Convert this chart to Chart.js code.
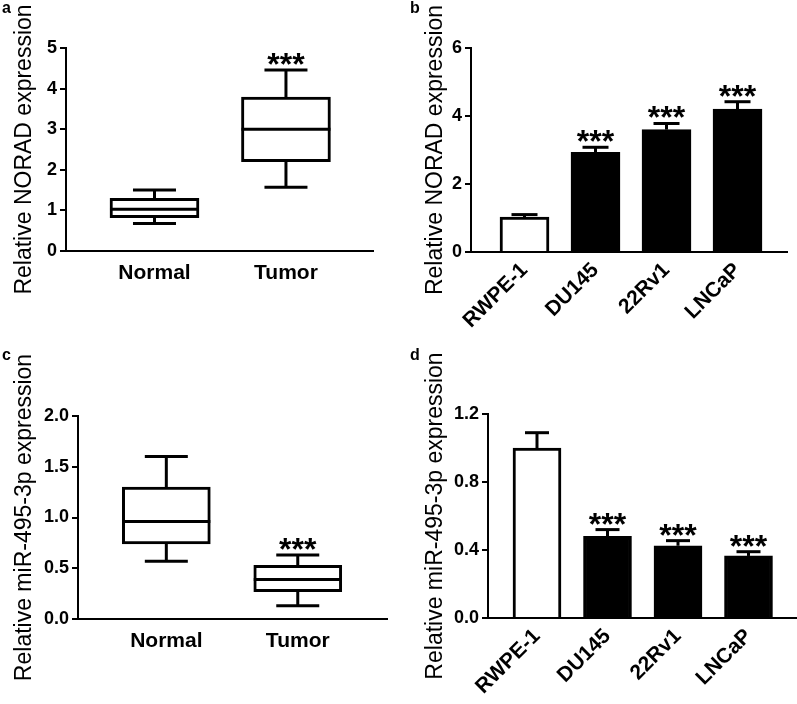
<!DOCTYPE html>
<html>
<head>
<meta charset="utf-8">
<script src="https://cdn.jsdelivr.net/npm/chart.js@4.4.0/dist/chart.umd.min.js"></script>
<style>
  body { margin: 0; background: #fff; }
  #fig { position: relative; width: 797px; height: 704px; overflow: hidden; font-family: "Liberation Sans", Arial, sans-serif; }
  canvas { position: absolute; }
  .lbl { position: absolute; font: bold 16px "Liberation Sans", Arial, sans-serif; line-height: 1; color: #000; }
</style>
</head>
<body>
<div id="fig">
  <canvas id="chartA" width="398" height="340" style="left:0;top:0"></canvas>
  <canvas id="chartB" width="397" height="340" style="left:400px;top:0"></canvas>
  <canvas id="chartC" width="398" height="364" style="left:0;top:340px"></canvas>
  <canvas id="chartD" width="397" height="364" style="left:400px;top:340px"></canvas>
  <div class="lbl" style="left:2px;top:0">a</div>
  <div class="lbl" style="left:410px;top:0">b</div>
  <div class="lbl" style="left:2px;top:347px">c</div>
  <div class="lbl" style="left:410px;top:347px">d</div>
</div>
<script>
// panel a - NORAD in tissues (box plot)
var tissues = ['Normal', 'Tumor'];
var aMin = [0.68, 1.57];
var aQ1 = [0.82, 2.2];
var aMed = [1.03, 3.0];
var aQ3 = [1.30, 3.79];
var aMax = [1.50, 4.46];
var aSig = ['', '***'];

// panel b - NORAD in cell lines
var cellLines = ['RWPE-1', 'DU145', '22Rv1', 'LNCaP'];
var bMean = [1.03, 2.93, 3.6, 4.2];
var bErr = [0.07, 0.15, 0.18, 0.22];
var bSig = ['', '***', '***', '***'];

// panel c - miR-495-3p in tissues (box plot)
var cMin = [0.57, 0.13];
var cQ1 = [0.74, 0.27];
var cMed = [0.96, 0.39];
var cQ3 = [1.30, 0.53];
var cMax = [1.60, 0.63];
var cSig = ['', '***'];

// panel d - miR-495-3p in cell lines
var dMean = [1.0, 0.48, 0.425, 0.365];
var dErr = [0.09, 0.04, 0.03, 0.025];
var dSig = ['', '***', '***', '***'];

var barFill = ['#ffffff', '#000000', '#000000', '#000000'];

const FONT = '"Liberation Sans", Arial, sans-serif';
Chart.defaults.font.family = FONT;
Chart.defaults.color = '#000';

// whiskers, medians, error bars and stars
const extras = {
    id: 'extras',
    afterDatasetsDraw(chart, args, o) {
        const ctx = chart.ctx;
        const xs = chart.scales.x;
        const ys = chart.scales.y;
        ctx.save();
        ctx.strokeStyle = '#000';
        ctx.fillStyle = '#000';
        ctx.lineWidth = 3;
        function line(x1, y1, x2, y2) {
            ctx.beginPath();
            ctx.moveTo(x1, y1);
            ctx.lineTo(x2, y2);
            ctx.stroke();
        }
        for (let i = 0; i < o.n; i++) {
            const cx = xs.getPixelForValue(i + 1);
            let top;
            if (o.box) {
                const half = o.cap / 2;
                line(cx, ys.getPixelForValue(o.q3[i]), cx, ys.getPixelForValue(o.max[i]));
                line(cx - half, ys.getPixelForValue(o.max[i]), cx + half, ys.getPixelForValue(o.max[i]));
                line(cx, ys.getPixelForValue(o.q1[i]), cx, ys.getPixelForValue(o.min[i]));
                line(cx - half, ys.getPixelForValue(o.min[i]), cx + half, ys.getPixelForValue(o.min[i]));
                line(cx - o.boxW / 2, ys.getPixelForValue(o.med[i]), cx + o.boxW / 2, ys.getPixelForValue(o.med[i]));
                top = o.max[i];
            } else {
                top = o.mean[i] + o.err[i];
                const yt = ys.getPixelForValue(top);
                line(cx, ys.getPixelForValue(o.mean[i]), cx, yt);
                line(cx - o.cap / 2, yt, cx + o.cap / 2, yt);
            }
            if (o.sig[i]) {
                ctx.font = 'bold 32px ' + FONT;
                ctx.textAlign = 'center';
                ctx.textBaseline = 'alphabetic';
                ctx.fillText(o.sig[i], cx, ys.getPixelForValue(top) + 5);
            }
        }
        ctx.restore();
    }
};

function makePanel(id, p) {
    const n = p.labels.length;
    let datasets;
    if (p.box) {
        datasets = [{
            data: p.q1.map((v, i) => ({ x: i + 1, y: [v, p.q3[i]] })),
            backgroundColor: '#fff',
            borderColor: '#000',
            borderWidth: 3,
            borderSkipped: false,
            barThickness: p.barW
        }];
    } else {
        datasets = [{
            data: p.mean.map((v, i) => ({ x: i + 1, y: v })),
            backgroundColor: barFill,
            borderColor: '#000',
            borderWidth: 3,
            barThickness: p.barW
        }];
    }
    return new Chart(document.getElementById(id), {
        type: 'bar',
        data: { datasets: datasets },
        plugins: [extras],
        options: {
            responsive: false,
            animation: false,
            layout: { padding: { top: p.padTop, right: p.padRight, left: 0, bottom: 0 } },
            plugins: {
                legend: { display: false },
                tooltip: { enabled: false },
                extras: {
                    n: n, box: p.box, cap: p.cap, boxW: p.barW,
                    min: p.min, q1: p.q1, med: p.med, q3: p.q3, max: p.max,
                    mean: p.mean, err: p.err, sig: p.sig
                }
            },
            scales: {
                x: {
                    type: 'linear',
                    offset: false,
                    min: p.xMin,
                    max: p.xMax,
                    afterBuildTicks: (s) => { s.ticks = p.labels.map((l, i) => ({ value: i + 1 })); },
                    afterFit: (s) => { s.height = p.xH; },
                    grid: { display: false, drawTicks: false },
                    border: { display: true, color: '#000', width: 2 },
                    ticks: {
                        autoSkip: false,
                        minRotation: p.rot,
                        maxRotation: p.rot,
                        padding: p.xPad,
                        color: '#000',
                        font: { size: 21, weight: 'bold' },
                        callback: (v) => p.labels[Math.round(v) - 1]
                    }
                },
                y: {
                    min: 0,
                    max: p.yMax,
                    afterFit: (s) => { s.width = p.yW; },
                    grid: { drawOnChartArea: false, drawTicks: true, tickLength: 6, color: '#000', lineWidth: 2 },
                    border: { display: true, color: '#000', width: 2 },
                    ticks: {
                        stepSize: p.step,
                        padding: 3,
                        color: '#000',
                        font: { size: 18, weight: 'bold' },
                        callback: (v) => v.toFixed(p.dec)
                    },
                    title: {
                        display: true,
                        text: p.title,
                        color: '#000',
                        font: { size: 23, weight: 'normal' },
                        padding: { top: p.titlePad, bottom: 0 }
                    }
                }
            }
        }
    });
}

makePanel('chartA', {
    labels: tissues, box: true, min: aMin, q1: aQ1, med: aMed, q3: aQ3, max: aMax, sig: aSig,
    barW: 89, cap: 43, xMin: 0.327, xMax: 2.662, rot: 0, xPad: 10, xH: 89,
    yMax: 5, step: 1, dec: 0, yW: 66, padTop: 48, padRight: 25,
    title: 'Relative NORAD expression', titlePad: 11
});

makePanel('chartB', {
    labels: cellLines, box: false, mean: bMean, err: bErr, sig: bSig,
    barW: 49, cap: 26, xMin: 0.2465, xMax: 4.697, rot: 45, xPad: 6, xH: 88,
    yMax: 6, step: 2, dec: 0, yW: 71, padTop: 48, padRight: 10,
    title: 'Relative NORAD expression', titlePad: 22
});

makePanel('chartC', {
    labels: tissues, box: true, min: cMin, q1: cQ1, med: cMed, q3: cQ3, max: cMax, sig: cSig,
    barW: 88, cap: 43, xMin: 0.328, xMax: 2.679, rot: 0, xPad: 10, xH: 85,
    yMax: 2, step: 0.5, dec: 1, yW: 78, padTop: 76, padRight: 11,
    title: 'Relative miR-495-3p expression', titlePad: 11
});

makePanel('chartD', {
    labels: cellLines, box: false, mean: dMean, err: dErr, sig: dSig,
    barW: 48, cap: 24, xMin: 0.305, xMax: 4.688, rot: 45, xPad: 6, xH: 86,
    yMax: 1.2, step: 0.4, dec: 1, yW: 88, padTop: 74, padRight: 0,
    title: 'Relative miR-495-3p expression', titlePad: 22
});
</script>
</body>
</html>
